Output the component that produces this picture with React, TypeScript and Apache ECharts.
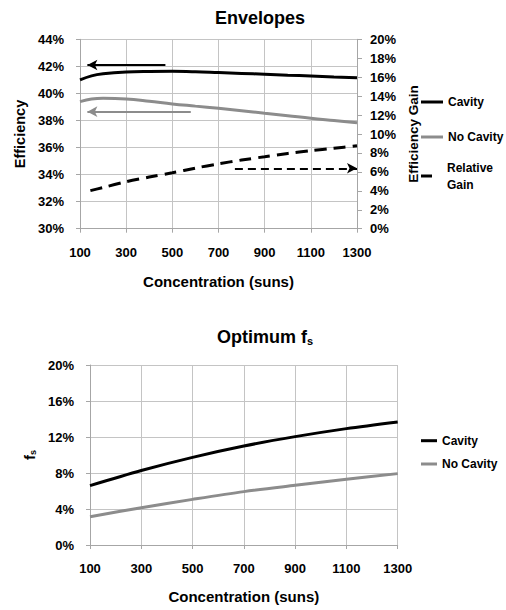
import React, { useEffect, useRef } from "react";
import * as echarts from "echarts";

// ---- Top chart: Envelopes ----
const concentration = [100, 150, 200, 300, 400, 500, 600, 700, 800, 900, 1000, 1100, 1200, 1300];
const cavityEff = [41.0, 41.3, 41.45, 41.58, 41.62, 41.63, 41.6, 41.54, 41.48, 41.42, 41.35, 41.29, 41.22, 41.16];
const noCavityEff = [39.39, 39.58, 39.64, 39.59, 39.42, 39.22, 39.06, 38.9, 38.72, 38.53, 38.35, 38.16, 38.0, 37.84];
const gainConcentration = [145, 200, 300, 400, 500, 600, 700, 800, 900, 1000, 1100, 1200, 1300];
const relativeGain = [4.02, 4.35, 4.96, 5.45, 5.9, 6.4, 6.85, 7.25, 7.6, 7.95, 8.24, 8.5, 8.76];

// Annotation arrows (data space)
const cavityArrow = { from: [470, 42.1], to: [132, 42.1] };
const noCavityArrow = { from: [580, 38.65], to: [132, 38.65] };
const gainArrow = { from: [771, 6.38], to: [1300, 6.38] };

// ---- Bottom chart: Optimum fs ----
const fsConcentration = [100, 300, 500, 700, 900, 1100, 1300];
const cavityFs = [6.6, 8.28, 9.74, 11.0, 12.04, 12.93, 13.67];
const noCavityFs = [3.15, 4.15, 5.07, 5.93, 6.63, 7.3, 7.93];

const FONT = "'Liberation Sans', Arial, sans-serif";
const GRID_COLOR = "#c4c4c4";
const AXIS_COLOR = "#a6a6a6";

function pairs(xs: number[], ys: number[]) {
  return xs.map((x, i) => [x, ys[i]]);
}

export default function App() {
  const ref = useRef<HTMLDivElement>(null);

  useEffect(() => {
    if (!ref.current) return;
    const chart = echarts.init(ref.current, undefined, { renderer: "svg" });

    const labelStyle = { fontSize: 13, fontWeight: "bold" as const, color: "#000", fontFamily: FONT };
    const nameStyle = { fontSize: 15, fontWeight: "bold" as const, color: "#000", fontFamily: FONT };
    const legendText = { fontSize: 12, fontWeight: "bold" as const, color: "#000", fontFamily: FONT, lineHeight: 14 };

    const xAxisBase = (gridIndex: number, gap: number) => ({
      type: "value" as const,
      gridIndex,
      min: 100,
      max: 1300,
      interval: 200,
      axisLine: { show: true, onZero: false, lineStyle: { color: AXIS_COLOR, width: 1 } },
      axisTick: { show: true, length: 4, lineStyle: { color: AXIS_COLOR } },
      axisLabel: { ...labelStyle, margin: 17, formatter: (v: number) => String(v) },
      splitLine: { show: true, lineStyle: { color: GRID_COLOR, width: 1 } },
      name: "Concentration (suns)",
      nameLocation: "middle" as const,
      nameGap: gap,
      nameTextStyle: nameStyle,
    });

    const legendBase = {
      orient: "vertical" as const,
      icon: "rect",
      itemHeight: 3,
      padding: 0,
      selectedMode: false,
      textStyle: legendText,
    };

    chart.setOption({
      animation: false,
      backgroundColor: "#fff",
      title: [
        {
          text: "Envelopes",
          left: 255,
          top: 4,
          textAlign: "center",
          textStyle: { fontSize: 18, fontWeight: "bold", color: "#000", fontFamily: FONT },
        },
        {
          text: "Optimum f{s|s}",
          left: 260,
          top: 322,
          textAlign: "center",
          textStyle: {
            fontSize: 18,
            fontWeight: "bold",
            color: "#000",
            fontFamily: FONT,
            rich: {
              s: { fontSize: 11, fontWeight: "bold", color: "#000", fontFamily: FONT, verticalAlign: "bottom", padding: [8, 0, 0, 0] },
            },
          },
        },
      ],
      grid: [
        { left: 80, top: 39.3, width: 277, height: 189.4, containLabel: false },
        { left: 90, top: 365, width: 307.7, height: 180, containLabel: false },
      ],
      xAxis: [xAxisBase(0, 45), xAxisBase(1, 44)],
      yAxis: [
        {
          type: "value",
          gridIndex: 0,
          min: 30,
          max: 44,
          interval: 2,
          axisLine: { show: true, lineStyle: { color: AXIS_COLOR } },
          axisTick: { show: true, length: 4, lineStyle: { color: AXIS_COLOR } },
          axisLabel: { ...labelStyle, margin: 16, formatter: "{value}%" },
          splitLine: { show: true, lineStyle: { color: GRID_COLOR } },
          name: "Efficiency",
          nameLocation: "middle",
          nameGap: 52,
          nameTextStyle: { ...nameStyle, fontSize: 14.5 },
        },
        {
          type: "value",
          gridIndex: 0,
          position: "right",
          min: 0,
          max: 20,
          interval: 2,
          axisLine: { show: true, lineStyle: { color: AXIS_COLOR } },
          axisTick: { show: true, length: 5, lineStyle: { color: AXIS_COLOR } },
          axisLabel: { ...labelStyle, margin: 13, formatter: "{value}%" },
          splitLine: { show: false },
          name: "Efficiency Gain",
          nameLocation: "middle",
          nameGap: 48,
          nameTextStyle: { ...nameStyle, fontSize: 13.5 },
        },
        {
          type: "value",
          gridIndex: 1,
          min: 0,
          max: 20,
          interval: 4,
          axisLine: { show: true, lineStyle: { color: AXIS_COLOR } },
          axisTick: { show: true, length: 4, lineStyle: { color: AXIS_COLOR } },
          axisLabel: { ...labelStyle, margin: 16, formatter: "{value}%" },
          splitLine: { show: true, lineStyle: { color: GRID_COLOR } },
          name: "f{s|s}",
          nameLocation: "middle",
          nameGap: 50,
          nameTextStyle: {
            ...nameStyle,
            rich: {
              s: { fontSize: 9, fontWeight: "bold", color: "#000", fontFamily: FONT, verticalAlign: "bottom", padding: [6, 0, 0, 0] },
            },
          },
        },
      ],
      legend: [
        { ...legendBase, data: ["Cavity"], left: 421, top: 95, itemWidth: 22 },
        { ...legendBase, data: ["No Cavity"], left: 421, top: 130, itemWidth: 22 },
        {
          ...legendBase,
          data: ["Relative Gain"],
          left: 421,
          top: 150.5,
          itemWidth: 11,
          formatter: () => "Relative\nGain",
          textStyle: { ...legendText, lineHeight: 17, padding: [17, 0, 0, 10] },
        },
        {
          ...legendBase,
          data: ["Cavity ", "No Cavity "],
          left: 421,
          top: 433.7,
          itemWidth: 16,
          itemGap: 9.3,
          formatter: (n: string) => n.trim(),
        },
      ],
      series: [
        {
          name: "Cavity",
          type: "line",
          xAxisIndex: 0,
          yAxisIndex: 0,
          data: pairs(concentration, cavityEff),
          smooth: 0.4,
          showSymbol: false,
          symbol: "none",
          lineStyle: { color: "#000", width: 3 },
          itemStyle: { color: "#000" },
          markLine: {
            silent: true,
            symbol: ["none", "arrow"],
            symbolSize: [8, 10],
            label: { show: false },
            lineStyle: { color: "#000", width: 2, type: "solid" },
            data: [[{ coord: cavityArrow.from }, { coord: cavityArrow.to }]],
          },
        },
        {
          name: "No Cavity",
          type: "line",
          xAxisIndex: 0,
          yAxisIndex: 0,
          data: pairs(concentration, noCavityEff),
          smooth: 0.4,
          showSymbol: false,
          symbol: "none",
          lineStyle: { color: "#8c8c8c", width: 3 },
          itemStyle: { color: "#8c8c8c" },
          markLine: {
            silent: true,
            symbol: ["none", "arrow"],
            symbolSize: [8, 10],
            label: { show: false },
            lineStyle: { color: "#8c8c8c", width: 2, type: "solid" },
            data: [[{ coord: noCavityArrow.from }, { coord: noCavityArrow.to }]],
          },
        },
        {
          name: "Relative Gain",
          type: "line",
          xAxisIndex: 0,
          yAxisIndex: 1,
          data: pairs(gainConcentration, relativeGain),
          smooth: 0.3,
          showSymbol: false,
          symbol: "none",
          lineStyle: { color: "#000", width: 3, type: [12, 7] },
          itemStyle: { color: "#000" },
          markLine: {
            silent: true,
            symbol: ["none", "arrow"],
            symbolSize: [8, 10],
            label: { show: false },
            lineStyle: { color: "#000", width: 2, type: [8, 5] },
            data: [[{ coord: gainArrow.from }, { coord: gainArrow.to }]],
          },
        },
        {
          name: "Cavity ",
          type: "line",
          xAxisIndex: 1,
          yAxisIndex: 2,
          data: pairs(fsConcentration, cavityFs),
          smooth: 0.3,
          showSymbol: false,
          symbol: "none",
          lineStyle: { color: "#000", width: 3 },
          itemStyle: { color: "#000" },
        },
        {
          name: "No Cavity ",
          type: "line",
          xAxisIndex: 1,
          yAxisIndex: 2,
          data: pairs(fsConcentration, noCavityFs),
          smooth: 0.3,
          showSymbol: false,
          symbol: "none",
          lineStyle: { color: "#8c8c8c", width: 3 },
          itemStyle: { color: "#8c8c8c" },
        },
      ],
    });

    return () => chart.dispose();
  }, []);

  return (
    <div
      ref={ref}
      style={{ position: "fixed", left: 0, top: 0, width: 506, height: 610, background: "#fff" }}
    />
  );
}
